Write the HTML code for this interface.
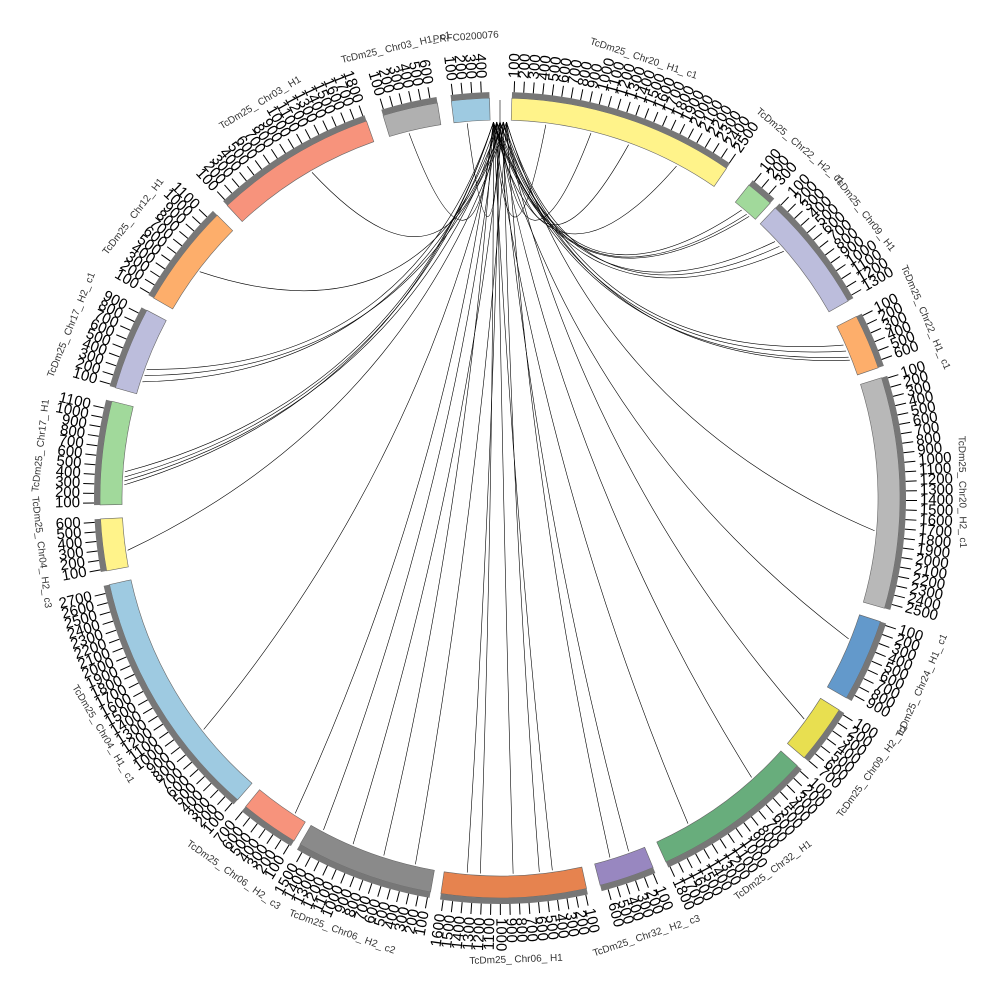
<!DOCTYPE html>
<html><head><meta charset="utf-8"><style>html,body{margin:0;padding:0;background:#fff;width:1000px;height:1000px;overflow:hidden}</style></head>
<body>
<svg id="s" width="1000" height="1000" xmlns="http://www.w3.org/2000/svg" font-family="Liberation Sans, sans-serif"></svg>
<script>
const S=document.getElementById('s');const cx=500,cy=498;
function P(a,r){const t=a*Math.PI/180;return [cx+r*Math.sin(t),cy-r*Math.cos(t)];}
let h='';
const segs=[
["PRFC0200076",353,358.5,"#9ecae1"],
["TcDm25_Chr20_H1_c1",1.7,34.5,"#fff38a"],
["TcDm25_Chr22_H2_c1",38.5,42.5,"#a1d99b"],
["TcDm25_Chr09_H1",43.5,60.5,"#bcbddc"],
["TcDm25_Chr22_H1_c1",63,71,"#fdae6b"],
["TcDm25_Chr20_H2_c1",72.5,106,"#b8b8b8"],
["TcDm25_Chr24_H1_c1",108,120,"#6399cb"],
["TcDm25_Chr09_H2_c1",122,130.5,"#e8df50"],
["TcDm25_Chr32_H1",132,155.5,"#68ad7c"],
["TcDm25_Chr32_H2_c3",157.5,165.5,"#9887c0"],
["TcDm25_Chr06_H1",167.5,188.5,"#e6834f"],
["TcDm25_Chr06_H2_c2",190,210,"#8a8a8a"],
["TcDm25_Chr06_H2_c3",211,219.5,"#f7937c"],
["TcDm25_Chr04_H1_c1",221,257.5,"#9ecae1"],
["TcDm25_Chr04_H2_c3",259.5,267,"#fff38a"],
["TcDm25_Chr17_H1",269,284,"#a1d99b"],
["TcDm25_Chr17_H2_c1",286,298,"#bcbddc"],
["TcDm25_Chr12_H1",300,315,"#fdae6b"],
["TcDm25_Chr03_H1",317,340.5,"#f7937c"],
["TcDm25_Chr03_H1_c1",343,351,"#b0b0b0"]];
const r1=378,r2=400;
function arc(a1,a2,ri,ro,fill,stroke){const la=(a2-a1)>180?1:0;const A=P(a1,ro),B=P(a2,ro),C=P(a2,ri),D=P(a1,ri);
return `<path d="M${A} A${ro},${ro} 0 ${la} 1 ${B} L${C} A${ri},${ri} 0 ${la} 0 ${D}Z" fill="${fill}" stroke="${stroke}" stroke-width="0.6"/>`;}
const targets=[7,14,20,28,40,41,41.5,47,48,49,66,67,68,68.5,95,112,126,138,150,160,163,172,174,178,183,185,193,198,203,208,213,232,262,272,272.6,273.2,274,288,289,290,307,330,346,355];
targets.forEach((t,i)=>{const sa=[-1,0,1,359,0.5,-0.5][i%6];const A=P(sa,r1-2),B=P(t,r1-2);
const k=0.5;const C=[cx+(A[0]+B[0]-2*cx)*k/2,cy+(A[1]+B[1]-2*cy)*k/2];
h+=`<path d="M${A} Q${C} ${B}" fill="none" stroke="#000" stroke-width="0.6"/>`;});
h+=`<line x1="500" x2="500" y1="100" y2="128" stroke="#000" stroke-width="0.6"/>`;
segs.forEach(s=>{const [n,a1,a2,c]=s;
h+=arc(a1,a2,r1,r2,c,'#666');
h+=arc(a1,a2,r2,r2+6,'#777','none');
let k=1;for(let a=a1+0.3;a<=a2;a+=1.35,k++){const A=P(a,r2+6),B=P(a,r2+17);
h+=`<line x1="${A[0]}" y1="${A[1]}" x2="${B[0]}" y2="${B[1]}" stroke="#000" stroke-width="1"/>`;
const T=P(a,r2+20);const right=(a%360)<180;
if(right) h+=`<text x="${T[0]}" y="${T[1]}" font-size="15" transform="rotate(${a-90} ${T[0]} ${T[1]})" dominant-baseline="middle" text-anchor="start">${k*100}</text>`;
else h+=`<text x="${T[0]}" y="${T[1]}" font-size="15" transform="rotate(${a+90} ${T[0]} ${T[1]})" dominant-baseline="middle" text-anchor="end">${k*100}</text>`;}
let m=(a1+a2)/2;const L=P(m,462);const mm=((m%360)+360)%360;const rot=(mm>90&&mm<270)?mm-180:mm;
h+=`<text x="${L[0]}" y="${L[1]}" font-size="10" fill="#333" text-anchor="middle" dominant-baseline="middle" transform="rotate(${rot} ${L[0]} ${L[1]})">${n.replace(/_/g,'_ ')}</text>`;});
S.innerHTML=h;
</script>
</body></html>
